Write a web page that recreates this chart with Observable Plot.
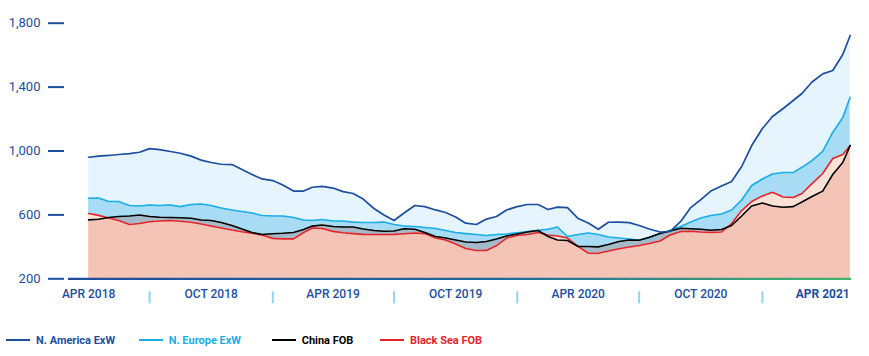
<!DOCTYPE html>
<html>
<head>
<meta charset="utf-8">
<script src="https://cdn.jsdelivr.net/npm/d3@7"></script>
<script src="https://cdn.jsdelivr.net/npm/@observablehq/plot@0.6"></script>
<style>
  body { margin: 0; background: #fff; }
  #wrap { position: relative; width: 869px; height: 356px; overflow: hidden; }
  #legend { position: absolute; left: 0; top: 318px; width: 869px; height: 44px; }
  .item { position: absolute; top: 0; height: 44px; display: flex; align-items: center;
          font-family: Roboto, sans-serif; font-weight: bold; font-size: 11px; white-space: nowrap; }
  .sw { width: 24px; height: 0; border-top: 2.5px solid; margin-right: 6px; }
</style>
</head>
<body>
<div id="wrap"><div id="chart"></div><div id="legend"></div></div>
<script>
// ---- data (semi-monthly readings) ----
const dates = [
  "2018-04-01","2018-04-16","2018-05-01","2018-05-16","2018-06-01","2018-06-16","2018-07-01","2018-07-16","2018-08-01","2018-08-16",
  "2018-09-01","2018-09-16","2018-10-01","2018-10-16","2018-11-01","2018-11-16","2018-12-01","2018-12-16","2019-01-01","2019-01-16",
  "2019-02-01","2019-02-16","2019-03-01","2019-03-16","2019-04-01","2019-04-16","2019-05-01","2019-05-16","2019-06-01","2019-06-16",
  "2019-07-01","2019-07-16","2019-08-01","2019-08-16","2019-09-01","2019-09-16","2019-10-01","2019-10-16","2019-11-01","2019-11-16",
  "2019-12-01","2019-12-16","2020-01-01","2020-01-16","2020-02-01","2020-02-16","2020-03-01","2020-03-16","2020-04-01","2020-04-16",
  "2020-05-01","2020-05-16","2020-06-01","2020-06-16","2020-07-01","2020-07-16","2020-08-01","2020-08-16","2020-09-01","2020-09-16",
  "2020-10-01","2020-10-16","2020-11-01","2020-11-16","2020-12-01","2020-12-16","2021-01-01","2021-01-16","2021-02-01","2021-02-16",
  "2021-03-01","2021-03-16","2021-04-01","2021-04-16","2021-05-01","2021-05-12"
];
const naExW = [
  961,968,972,978,984,992,1015,1009,997,986,
  968,943,928,917,915,884,853,825,815,787,
  749,749,773,778,768,746,734,699,640,599,
  565,612,659,652,631,615,587,548,540,574,
  590,631,652,665,665,634,649,646,577,549,
  510,554,555,552,534,512,493,496,559,646,
  696,749,781,809,903,1034,1141,1216,1266,1316,
  1360,1432,1483,1504,1604,1723
];
const neExW = [
  704,706,684,684,659,656,662,659,662,652,
  665,668,659,643,631,621,612,596,593,593,
  584,568,565,571,562,562,555,552,552,555,
  540,530,527,521,515,502,490,483,477,471,
  477,480,488,496,504,510,524,465,477,487,
  477,462,455,449,443,455,483,502,527,555,
  580,596,606,631,693,784,825,856,865,865,
  898,940,997,1116,1209,1336
];
const chinaFOB = [
  569,573,584,590,593,599,590,585,584,582,
  579,568,565,552,534,512,490,477,482,485,
  490,509,530,537,527,524,524,512,502,498,
  499,513,510,490,465,455,443,430,427,433,
  449,468,480,493,502,465,443,440,402,402,
  400,415,433,443,441,460,483,499,516,513,
  510,504,509,534,593,656,674,656,648,652,
  681,715,749,853,928,1034
];
const blackSeaFOB = [
  609,597,580,565,540,546,557,562,565,560,
  554,543,530,518,505,495,485,474,453,450,
  450,490,518,515,497,488,483,478,477,477,
  478,482,487,483,455,443,418,390,377,377,
  408,455,471,477,490,474,468,455,402,361,
  360,374,388,399,408,421,437,474,496,498,
  493,490,493,546,627,684,719,742,712,709,
  734,796,859,953,978,1034
];
const seriesNames = ["N. America ExW", "N. Europe ExW", "China FOB", "Black Sea FOB"];
const seriesColors = ["#1d4e9e", "#1aaee8", "#000000", "#e2242a"];
const yTicks = [200, 600, 1000, 1400, 1800];
const xLabels = ["APR 2018", "OCT 2018", "APR 2019", "OCT 2019", "APR 2020", "OCT 2020", "APR 2021"];
const xLabelDates = ["2018-04-01", "2018-10-01", "2019-04-01", "2019-10-01", "2020-04-01", "2020-10-01", "2021-04-01"];
const sepDates = ["2018-07-01", "2019-01-01", "2019-07-01", "2020-01-01", "2020-07-01", "2021-01-01"];
const xDomain = ["2018-03-02", "2021-05-14"];
const yDomain = [200, 1800];

// ---- table ----
const rows = dates.map((d, i) => ({
  date: new Date(d),
  na: naExW[i], ne: neExW[i], cn: chinaFOB[i], bs: blackSeaFOB[i],
  lo: Math.min(chinaFOB[i], blackSeaFOB[i])
}));
const base = yDomain[0];
const labelFont = "Roboto, sans-serif";

const chart = Plot.plot({
  width: 869, height: 318,
  marginLeft: 68, marginRight: 18, marginTop: 22.7, marginBottom: 39.7,
  x: { type: "utc", domain: xDomain.map(d => new Date(d)), axis: null },
  y: { domain: yDomain, axis: null },
  style: { background: "transparent" },
  marks: [
    Plot.areaY(rows, { x: "date", y1: base, y2: "na", fill: "#e6f5fd" }),
    Plot.areaY(rows, { x: "date", y1: base, y2: "ne", fill: "#a8dcf5" }),
    Plot.areaY(rows, { x: "date", y1: base, y2: "cn", fill: "#a5bac9" }),
    Plot.areaY(rows, { x: "date", y1: base, y2: "bs", fill: "#fbe2d7" }),
    Plot.areaY(rows, { x: "date", y1: base, y2: "lo", fill: "#f4c5b7" }),
    Plot.lineY(rows, { x: "date", y: "ne", stroke: seriesColors[1], strokeWidth: 1.6 }),
    Plot.lineY(rows, { x: "date", y: "bs", stroke: seriesColors[3], strokeWidth: 1.6 }),
    Plot.lineY(rows, { x: "date", y: "cn", stroke: seriesColors[2], strokeWidth: 1.6 }),
    Plot.lineY(rows, { x: "date", y: "na", stroke: seriesColors[0], strokeWidth: 1.7 }),
    Plot.ruleY([base], { stroke: "url(#baseGrad)", strokeWidth: 2.2 }),
    Plot.axisY(yTicks, {
      anchor: "left", tickSize: 16, tickPadding: 8, dx: -4,
      tickFormat: d3.format(","), color: "#1d4e9e", strokeWidth: 2,
      fontSize: 13, fontFamily: "Roboto, sans-serif"
    }),
    Plot.axisX(sepDates.map(d => new Date(d)), {
      anchor: "bottom", tickSize: 12, dy: 13, tickFormat: () => "",
      color: "#8fd3f5", strokeWidth: 2
    }),
    Plot.text(xLabels.slice(0, 6), {
      x: (d, i) => new Date(xLabelDates[i]), text: d => d,
      frameAnchor: "bottom", dy: 19, fill: "#1d4e9e",
      fontSize: 12, fontWeight: 500, fontFamily: labelFont
    }),
    Plot.text(xLabels.slice(6), {
      x: (d, i) => new Date(xLabelDates[6 + i]), text: d => d,
      frameAnchor: "bottom", dy: 19, fill: "#1d4e9e",
      fontSize: 12, fontWeight: "bold", fontFamily: labelFont
    })
  ]
});

// gradient for the baseline
const xr = chart.scale("x").range;
const defs = d3.select(chart).insert("defs", ":first-child");
const grad = defs.append("linearGradient").attr("id", "baseGrad")
  .attr("gradientUnits", "userSpaceOnUse")
  .attr("x1", xr[0]).attr("x2", xr[1]).attr("y1", 0).attr("y2", 0);
grad.append("stop").attr("offset", "0%").attr("stop-color", "#1f4c9e");
grad.append("stop").attr("offset", "55%").attr("stop-color", "#1f6a9c");
grad.append("stop").attr("offset", "100%").attr("stop-color", "#46b56a");

document.getElementById("chart").appendChild(chart);

// legend
const legendLefts = [6, 138.7, 271.7, 380];
const legend = document.getElementById("legend");
seriesNames.forEach((name, i) => {
  const item = document.createElement("div");
  item.className = "item";
  item.style.left = legendLefts[i] + "px";
  item.style.color = seriesColors[i];
  const sw = document.createElement("span");
  sw.className = "sw";
  sw.style.borderTopColor = seriesColors[i];
  const t = document.createElement("span");
  t.textContent = name;
  item.appendChild(sw);
  item.appendChild(t);
  legend.appendChild(item);
});
</script>
</body>
</html>
